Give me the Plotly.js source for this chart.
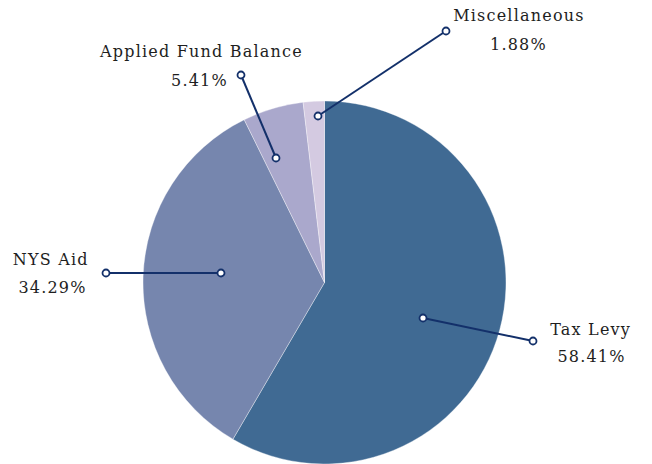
<!DOCTYPE html>
<html>
<head>
<meta charset="utf-8">
<script src="https://cdn.plot.ly/plotly-3.0.1.min.js"></script>
<style>html,body{margin:0;padding:0;background:#fff;}#chart{width:652px;height:464px;}
#chart .annotation-text{letter-spacing:1.2px;}</style>
</head>
<body>
<div id="chart"></div>
<script>
const categories = ["Tax Levy", "NYS Aid", "Applied Fund Balance", "Miscellaneous"];
const shares = [58.41, 34.29, 5.41, 1.88];
const sliceColors = ["#406a93", "#7686ae", "#aaa8cc", "#d4cae1"];

// label placement (pixels): [inner dot x,y, outer dot x,y, name x,y, value x,y]
const labelGeom = [
  [423, 318, 533, 341, 590, 329, 591, 356],
  [221, 273, 106, 273, 51, 259, 52, 287],
  [276, 158, 241, 75, 201, 52, 199, 80],
  [318, 116, 446, 31, 519, 16, 518, 44]
];

const W = 652, H = 464;
const px = x => x / W, py = y => 1 - y / H;
const navy = "#13306a";
const labelFont = {family: "DejaVu Serif, Liberation Serif, serif", size: 16, color: "#1e1e1e"};

const shapes = [];
const annotations = [];
labelGeom.forEach((g, i) => {
  shapes.push({type: "line", xref: "paper", yref: "paper", x0: px(g[0]), y0: py(g[1]), x1: px(g[2]), y1: py(g[3]),
    line: {color: navy, width: 2}, layer: "above"});
  [[g[0], g[1]], [g[2], g[3]]].forEach(p => {
    shapes.push({type: "circle", xref: "paper", yref: "paper", xsizemode: "pixel", ysizemode: "pixel",
      xanchor: px(p[0]), yanchor: py(p[1]), x0: -3.5, x1: 3.5, y0: -3.5, y1: 3.5,
      fillcolor: "#ffffff", line: {color: navy, width: 1.8}, layer: "above"});
  });
  annotations.push({xref: "paper", yref: "paper", x: px(g[4]), y: py(g[5]), xanchor: "center", yanchor: "middle",
    text: categories[i], showarrow: false, font: labelFont});
  annotations.push({xref: "paper", yref: "paper", x: px(g[6]), y: py(g[7]), xanchor: "center", yanchor: "middle",
    text: shares[i].toFixed(2) + "%", showarrow: false, font: labelFont});
});

const cx = 324.5, R = 182;
const data = [{
  type: "pie",
  labels: categories,
  values: shares,
  sort: false,
  direction: "clockwise",
  rotation: 0,
  textinfo: "none",
  hoverinfo: "label+percent",
  marker: {colors: sliceColors, line: {color: "rgba(255,255,255,0.6)", width: 0.6}},
  domain: {x: [px(cx - R), px(cx + R)], y: [0, py(101)]},
  showlegend: false
}];

const layout = {
  width: W, height: H,
  margin: {l: 0, r: 0, t: 0, b: 0},
  paper_bgcolor: "#ffffff",
  showlegend: false,
  shapes: shapes,
  annotations: annotations
};
Plotly.newPlot("chart", data, layout, {displayModeBar: false, staticPlot: true});
</script>
</body>
</html>
